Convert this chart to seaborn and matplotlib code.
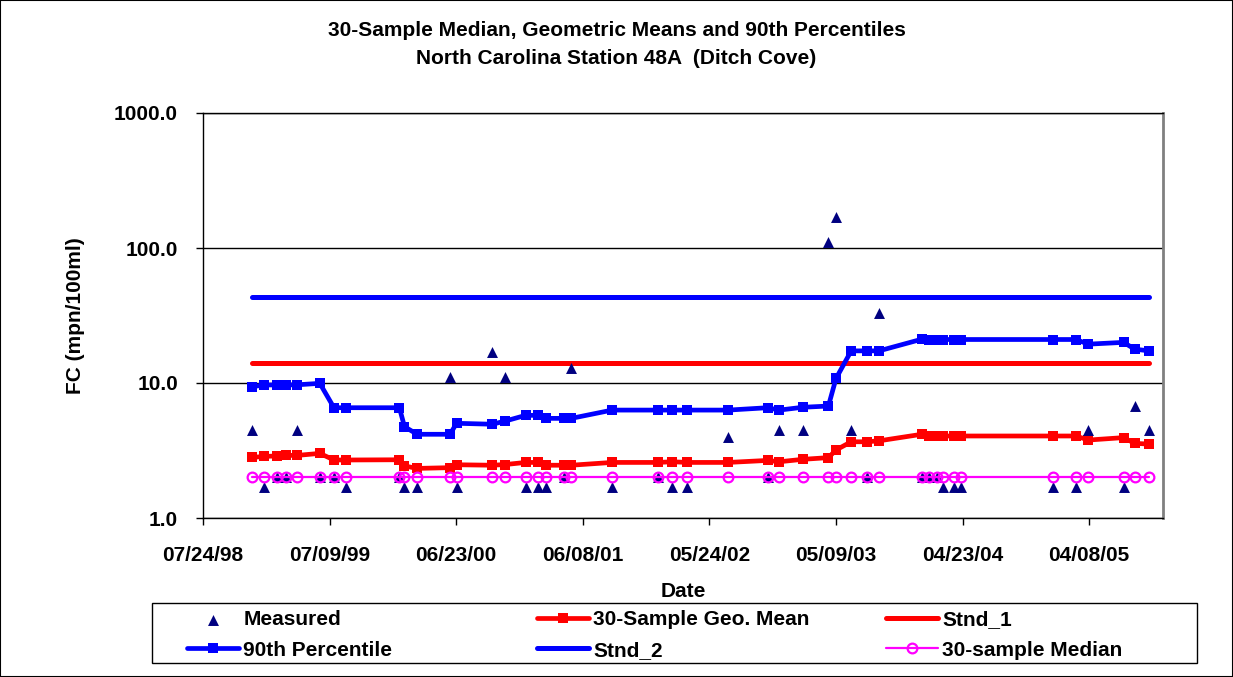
import numpy as np
import pandas as pd
import matplotlib
matplotlib.use("Agg")
import matplotlib.pyplot as plt
import matplotlib.dates as mdates
from matplotlib.ticker import FixedLocator, NullLocator, FixedFormatter
from matplotlib.patches import Rectangle
import seaborn as sns

# ---------------- data ----------------
dates = [
    "1998-12-07", "1999-01-09", "1999-02-14", "1999-03-10", "1999-04-11",
    "1999-06-12", "1999-07-21", "1999-08-24", "2000-01-18", "2000-02-01",
    "2000-03-07", "2000-06-06", "2000-06-24", "2000-10-01", "2000-11-06",
    "2001-01-01", "2001-02-04", "2001-02-26", "2001-04-18", "2001-05-07",
    "2001-08-28", "2002-01-03", "2002-02-10", "2002-03-23", "2002-07-15",
    "2002-11-01", "2002-12-03", "2003-02-06", "2003-04-18", "2003-05-09",
    "2003-06-20", "2003-08-02", "2003-09-05", "2004-01-01", "2004-01-21",
    "2004-02-12", "2004-02-28", "2004-03-29", "2004-04-18", "2004-12-30",
    "2005-03-02", "2005-04-06", "2005-07-12", "2005-08-12", "2005-09-21",
]
measured = [
    4.5, 1.7, 2.0, 2.0, 4.5, 2.0, 2.0, 1.7, 2.0, 1.7,
    1.7, 11.0, 1.7, 17.0, 11.0, 1.7, 1.7, 1.7, 2.0, 13.0,
    1.7, 2.0, 1.7, 1.7, 4.0, 2.0, 4.5, 4.5, 110.0, 170.0,
    4.5, 2.0, 33.0, 2.0, 2.0, 2.0, 1.7, 1.7, 1.7, 1.7,
    1.7, 4.5, 1.7, 6.8, 4.5,
]
geo_mean = [
    2.81, 2.86, 2.88, 2.91, 2.91, 3.01, 2.69, 2.69, 2.70, 2.43,
    2.33, 2.36, 2.48, 2.46, 2.49, 2.58, 2.58, 2.46, 2.46, 2.46,
    2.58, 2.58, 2.61, 2.58, 2.58, 2.67, 2.61, 2.72, 2.80, 3.19,
    3.67, 3.67, 3.73, 4.17, 4.05, 4.05, 4.05, 4.05, 4.05, 4.05,
    4.05, 3.78, 3.94, 3.57, 3.53,
]
pct90 = [
    9.39, 9.67, 9.67, 9.67, 9.70, 9.94, 6.56, 6.56, 6.56, 4.75,
    4.17, 4.17, 5.03, 4.95, 5.23, 5.76, 5.76, 5.47, 5.47, 5.47,
    6.30, 6.30, 6.30, 6.30, 6.30, 6.56, 6.30, 6.61, 6.75, 10.8,
    17.3, 17.3, 17.3, 21.1, 21.0, 21.0, 21.0, 21.0, 21.0, 21.0,
    21.0, 19.4, 20.0, 17.8, 17.3,
]
median30 = [
    2.0, 2.0, 2.0, 2.0, 2.0, 2.0, 2.0, 2.0, 2.0, 2.0,
    2.0, 2.0, 2.0, 2.0, 2.0, 2.0, 2.0, 2.0, 2.0, 2.0,
    2.0, 2.0, 2.0, 2.0, 2.0, 2.0, 2.0, 2.0, 2.0, 2.0,
    2.0, 2.0, 2.0, 2.0, 2.0, 2.0, 2.0, 2.0, 2.0, 2.0,
    2.0, 2.0, 2.0, 2.0, 2.0,
]
stnd_1 = 14.0
stnd_2 = 43.0

x_tick_labels = ["07/24/98", "07/09/99", "06/23/00", "06/08/01",
                 "05/24/02", "05/09/03", "04/23/04", "04/08/05"]
x_min = "1998-07-24"
x_max = "2005-10-29"
y_ticks = [1.0, 10.0, 100.0, 1000.0]
y_tick_labels = ["1.0", "10.0", "100.0", "1000.0"]

title_1 = "30-Sample Median, Geometric Means and 90th Percentiles"
title_2 = "North Carolina Station 48A  (Ditch Cove)"

# ---------------- style ----------------
sns.set_theme(style="white")
plt.rcParams["font.family"] = ["Liberation Sans", "DejaVu Sans"]
plt.rcParams["font.weight"] = "bold"
plt.rcParams["axes.labelweight"] = "bold"
plt.rcParams["text.color"] = "black"
plt.rcParams["axes.labelcolor"] = "black"
plt.rcParams["xtick.color"] = "black"
plt.rcParams["ytick.color"] = "black"

df = pd.DataFrame({
    "Date": pd.to_datetime(dates),
    "Measured": measured,
    "Geo": geo_mean,
    "P90": pct90,
    "Median": median30,
})
df["Stnd_1"] = stnd_1
df["Stnd_2"] = stnd_2

W, H = 1233, 677
fig = plt.figure(figsize=(W / 100, H / 100), dpi=100)
ax = fig.add_axes([203 / W, 1 - 518 / H, 960 / W, 405 / H])

RED = "#FF0000"
BLUE = "#0000FF"
NAVY = "#000080"
MAG = "#FF00FF"

sns.lineplot(data=df, x="Date", y="Stnd_1", ax=ax, color=RED, lw=3.6,
             solid_capstyle="round", label="Stnd_1", zorder=3)
sns.lineplot(data=df, x="Date", y="Stnd_2", ax=ax, color=BLUE, lw=3.6,
             solid_capstyle="round", label="Stnd_2", zorder=3)
sns.lineplot(data=df, x="Date", y="P90", ax=ax, color=BLUE, lw=3.4,
             marker="s", markersize=7.8, markeredgecolor=BLUE,
             markeredgewidth=0, label="90th Percentile", zorder=4)
sns.lineplot(data=df, x="Date", y="Geo", ax=ax, color=RED, lw=3.4,
             marker="s", markersize=7.8, markeredgecolor=RED,
             markeredgewidth=0, label="30-Sample Geo. Mean", zorder=4)
sns.scatterplot(data=df, x="Date", y="Measured", ax=ax, marker="^", s=62,
                color=NAVY, edgecolor=NAVY, linewidth=0, label="Measured",
                zorder=5)
sns.lineplot(data=df, x="Date", y="Median", ax=ax, color=MAG, lw=1.6,
             marker="o", markersize=7, markerfacecolor="none",
             markeredgecolor=MAG, markeredgewidth=1.6,
             label="30-sample Median", zorder=6)

# ---------------- axes ----------------
ax.set_yscale("log")
ax.set_ylim(1, 1000)
ax.yaxis.set_major_locator(FixedLocator(y_ticks))
ax.yaxis.set_major_formatter(FixedFormatter(y_tick_labels))
ax.yaxis.set_minor_locator(NullLocator())

xt = [mdates.date2num(pd.to_datetime(t, format="%m/%d/%y")) for t in x_tick_labels]
ax.set_xlim(mdates.date2num(pd.Timestamp(x_min)), mdates.date2num(pd.Timestamp(x_max)))
ax.xaxis.set_major_locator(FixedLocator(xt))
ax.xaxis.set_major_formatter(FixedFormatter(x_tick_labels))
ax.xaxis.set_minor_locator(NullLocator())

ax.yaxis.grid(True, color="black", lw=1.0)
ax.xaxis.grid(False)
ax.set_axisbelow(True)

for s in ["left", "bottom", "top"]:
    ax.spines[s].set_color("black")
    ax.spines[s].set_linewidth(1.0)
ax.spines["right"].set_color("#808080")
ax.spines["right"].set_linewidth(2.0)

ax.tick_params(axis="both", which="major", direction="out", length=5,
               width=1, color="black", labelsize=15, bottom=True, left=True,
               labelcolor="black")
ax.tick_params(axis="x", pad=15.5)
ax.tick_params(axis="y", pad=13)
for lab in ax.get_xticklabels() + ax.get_yticklabels():
    lab.set_fontweight("bold")

ax.set_xlabel("Date", fontsize=15, fontweight="bold")
ax.set_ylabel("FC (mpn/100ml)", fontsize=15, fontweight="bold")
ax.xaxis.set_label_coords(0.5, -0.158)
ax.yaxis.set_label_coords(-0.123, 0.5)

fig.text(0.5, 1 - 30 / H, title_1, ha="center", va="center",
         fontsize=15, fontweight="bold")
fig.text(0.5, 1 - 58 / H, title_2, ha="center", va="center",
         fontsize=15, fontweight="bold")

# ---------------- legend ----------------
handles, labels = ax.get_legend_handles_labels()
if ax.get_legend() is not None:
    ax.get_legend().remove()
hmap = dict(zip(labels, handles))
columns = [
    (187, ["Measured", "90th Percentile"]),
    (537, ["30-Sample Geo. Mean", "Stnd_2"]),
    (886, ["Stnd_1", "30-sample Median"]),
]
for xpix, names in columns:
    fig.legend([hmap[k] for k in names], names, loc="upper left",
               bbox_to_anchor=(xpix / W, 1 - 610 / H),
               bbox_transform=fig.transFigure,
               ncol=1, frameon=False, borderaxespad=0, borderpad=0,
               prop={"weight": "bold", "size": 15}, handlelength=2.5,
               handletextpad=0.2, labelspacing=0.56)

fig.add_artist(Rectangle((152 / W, 1 - 663 / H), (1197 - 152) / W, 60 / H,
                         transform=fig.transFigure, fill=False,
                         edgecolor="black", lw=1.0))
fig.add_artist(Rectangle((0, 0), 1, 1, transform=fig.transFigure,
                         fill=False, edgecolor="black", lw=1.5))

fig.savefig("out.png", dpi=100)
